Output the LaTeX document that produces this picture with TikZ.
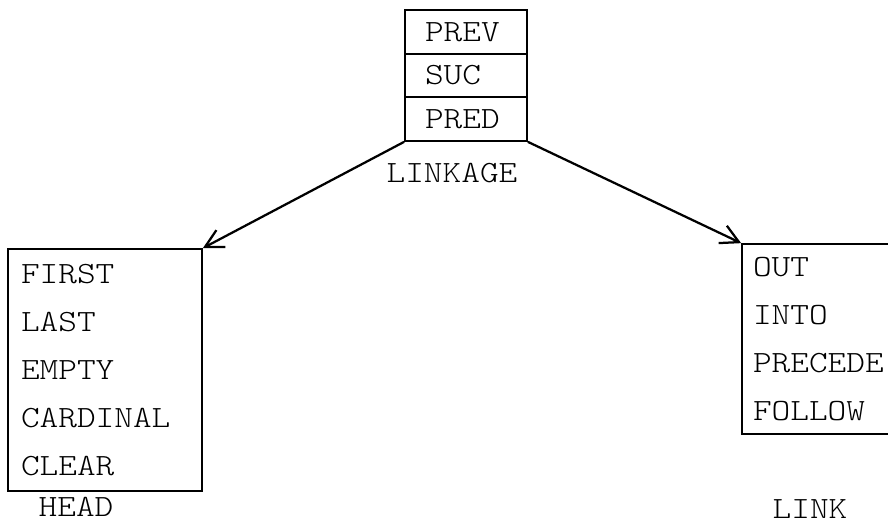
\documentclass[tikz,border=0pt]{standalone}
\usepackage{fontspec}
\newfontfamily\typewriter[FakeStretch=1.15]{lmmonolt10-regular.otf}
\usetikzlibrary{arrows.meta}

\begin{document}
\begin{tikzpicture}[
    field/.style={draw, line width=1.2pt, rectangle, minimum width=3.05cm, minimum height=1.092cm,
        text width=2.05cm, inner xsep=0.5cm, inner ysep=0pt, align=left,
        font={\typewriter\fontsize{22pt}{34pt}\selectfont}},
    record/.style={draw, line width=1.2pt, rectangle, align=left, inner ysep=0pt,
        font={\typewriter\fontsize{22pt}{34.14pt}\selectfont}},
    caption/.style={inner sep=0pt, font={\typewriter\fontsize{22pt}{34pt}\selectfont}},
    pointer/.style={line width=1.6pt, -{Straight Barb[length=0.45cm, width=0.48cm]}}
]
    \useasboundingbox (0,0) rectangle (22.2,13.1);

    % Linkage record
    \node[field] (prev) at (11.65,12.304) {PREV};
    \node[field] (suc) at (11.65,11.212) {SUC};
    \node[field] (pred) at (11.65,10.121) {PRED};
    \node[caption] (linkage) at (11.3,8.775) {LINKAGE};

    % Head record
    \node[record, text width=4.2cm, inner xsep=0.325cm, minimum height=6.05cm] (head) at (2.625,3.85)
        {FIRST\\LAST\\EMPTY\\CARDINAL\\CLEAR};
    \node[caption] (headname) at (1.9,0.43) {HEAD};

    % Link record
    \node[record, text width=3.3cm, inner xsep=0.275cm, minimum height=4.75cm] (link) at (20.475,4.625)
        {OUT\\INTO\\PRECEDE\\FOLLOW};
    \node[caption] (linkname) at (20.25,0.375) {LINK};

    \draw[pointer] (pred.south west) -- (head.north east);
    \draw[pointer] (pred.south east) -- (link.north west);
\end{tikzpicture}
\end{document}
